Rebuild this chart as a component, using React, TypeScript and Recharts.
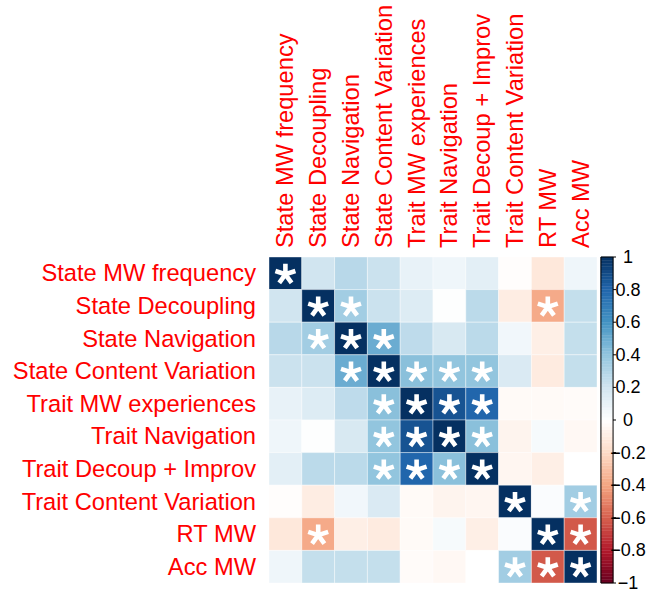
import React from "react";
import { ScatterChart, Scatter, XAxis, YAxis, ReferenceArea } from "recharts";

const labels = [
  "State MW frequency",
  "State Decoupling",
  "State Navigation",
  "State Content Variation",
  "Trait MW experiences",
  "Trait Navigation",
  "Trait Decoup + Improv",
  "Trait Content Variation",
  "RT MW",
  "Acc MW",
];

const corr = [
  [1, 0.2, 0.28, 0.22, 0.1, 0.07, 0.12, -0.01, -0.13, 0.07],
  [0.2, 1, 0.35, 0.22, 0.15, 0.01, 0.27, -0.1, -0.38, 0.24],
  [0.28, 0.35, 1, 0.5, 0.26, 0.17, 0.27, 0.06, -0.09, 0.24],
  [0.22, 0.22, 0.5, 1, 0.42, 0.4, 0.4, 0.16, -0.11, 0.24],
  [0.1, 0.15, 0.26, 0.42, 1, 0.87, 0.8, -0.03, -0.03, -0.02],
  [0.07, 0.01, 0.17, 0.4, 0.87, 1, 0.42, -0.06, 0.04, -0.04],
  [0.12, 0.27, 0.27, 0.4, 0.8, 0.42, 1, -0.05, -0.09, 0.0],
  [-0.01, -0.1, 0.06, 0.16, -0.03, -0.06, -0.05, 1, 0.02, 0.35],
  [-0.13, -0.38, -0.09, -0.11, -0.03, 0.04, -0.09, 0.02, 1, -0.62],
  [0.07, 0.24, 0.24, 0.24, -0.02, -0.04, 0.0, 0.35, -0.62, 1],
];

// [row, col] of significant cells
const significant = [
  [0, 0],
  [1, 1], [1, 2], [1, 8],
  [2, 1], [2, 2], [2, 3],
  [3, 2], [3, 3], [3, 4], [3, 5], [3, 6],
  [4, 3], [4, 4], [4, 5], [4, 6],
  [5, 3], [5, 4], [5, 5], [5, 6],
  [6, 3], [6, 4], [6, 5], [6, 6],
  [7, 7], [7, 9],
  [8, 1], [8, 8], [8, 9],
  [9, 7], [9, 8], [9, 9],
];

const colorbarTicks = [-1, -0.8, -0.6, -0.4, -0.2, 0, 0.2, 0.4, 0.6, 0.8, 1];

const palette = [
  "#67001F", "#B2182B", "#D6604D", "#F4A582", "#FDDBC7", "#FFFFFF",
  "#D1E5F0", "#92C5DE", "#4393C3", "#2166AC", "#053061",
];

function hexToRgb(h: string) {
  return [parseInt(h.slice(1, 3), 16), parseInt(h.slice(3, 5), 16), parseInt(h.slice(5, 7), 16)];
}

function colorFor(v: number) {
  const t = Math.max(0, Math.min(1, (v + 1) / 2)) * (palette.length - 1);
  const i = Math.min(palette.length - 2, Math.floor(t));
  const f = t - i;
  const a = hexToRgb(palette[i]);
  const b = hexToRgb(palette[i + 1]);
  const c = a.map((av, k) => Math.round(av + (b[k] - av) * f));
  return `rgb(${c[0]},${c[1]},${c[2]})`;
}

const cells = corr.flatMap((row, r) => row.map((v, c) => ({ r, c, v })));
const stars = significant.map(([r, c]) => ({ x: c + 0.5, y: r + 0.5 }));
const N = labels.length;
const centerTicks = labels.map((_, i) => i + 0.5);
// anchor points so the colour-bar axis has data (not drawn)
const cbAnchors = colorbarTicks.map((t) => ({ x: 5, v: t }));

const SLICES = 100;
const cbSlices = Array.from({ length: SLICES }, (_, i) => {
  const lo = -1 + (2 * i) / SLICES;
  const hi = -1 + (2 * (i + 1)) / SLICES;
  return { lo, hi, color: colorFor((lo + hi) / 2) };
});

const FONT = "'Liberation Sans', Arial, Helvetica, sans-serif";
const LABEL_SIZE = 23.7;

const RowTick = (props: any) => {
  const { x, y, payload } = props;
  const idx = Math.round(payload.value - 0.5);
  return (
    <text x={x - 5} y={y} textAnchor="end" dominantBaseline="central" fill="#FF0000" fontSize={LABEL_SIZE} fontFamily={FONT}>
      {labels[idx]}
    </text>
  );
};

const ColTick = (props: any) => {
  const { x, y, payload } = props;
  const idx = Math.round(payload.value - 0.5);
  const ty = y - 1;
  return (
    <text
      x={x}
      y={ty}
      transform={`rotate(-90, ${x}, ${ty})`}
      textAnchor="start"
      dominantBaseline="central"
      fill="#FF0000"
      fontSize={LABEL_SIZE}
      fontFamily={FONT}
    >
      {labels[idx]}
    </text>
  );
};

const CbTick = (props: any) => {
  const { x, y, payload } = props;
  const v = payload.value as number;
  const txt = v === 0 ? "0" : (v < 0 ? "\u2212" : "") + String(Math.abs(v));
  return (
    <g>
      <line x1={x + 8} x2={x + 11} y1={y} y2={y} stroke="#000" strokeWidth={1} />
      <text x={x + 23} y={y} textAnchor="middle" dominantBaseline="central" fill="#000" fontSize={18} fontFamily={FONT}>
        {txt}
      </text>
    </g>
  );
};

const Star = (props: any) => {
  const { cx, cy } = props;
  const L = 10.5;
  const yc = cy + 1;
  let d = "";
  for (let k = 0; k < 5; k++) {
    const a = (k * 72 * Math.PI) / 180;
    d += `M${cx},${yc}L${cx + L * Math.sin(a)},${yc - L * Math.cos(a)}`;
  }
  return <path d={d} stroke="#FFFFFF" strokeWidth={4.6} strokeLinecap="butt" fill="none" />;
};

const Nothing = () => <g />;

export default function App() {
  return (
    <div style={{ position: "absolute", left: 0, top: 0, width: 649, height: 592, background: "#fff" }}>
      <ScatterChart width={649} height={592} margin={{ top: 0, right: 0, bottom: 9, left: 0 }}>
        <XAxis
          xAxisId="x"
          type="number"
          dataKey="x"
          domain={[0, N]}
          orientation="top"
          height={257}
          ticks={centerTicks}
          interval={0}
          tick={ColTick}
          axisLine={false}
          tickLine={false}
        />
        <YAxis
          yAxisId="y"
          type="number"
          dataKey="y"
          domain={[0, N]}
          reversed
          width={269}
          ticks={centerTicks}
          interval={0}
          tick={RowTick}
          axisLine={false}
          tickLine={false}
        />
        <YAxis
          yAxisId="cb"
          type="number"
          dataKey="v"
          orientation="right"
          domain={[-1, 1]}
          ticks={colorbarTicks}
          interval={0}
          width={52}
          tick={CbTick}
          axisLine={false}
          tickLine={false}
        />
        {cells.map((c) => (
          <ReferenceArea
            key={`c${c.r}-${c.c}`}
            xAxisId="x"
            yAxisId="y"
            x1={c.c}
            x2={c.c + 1}
            y1={c.r}
            y2={c.r + 1}
            fill={colorFor(c.v)}
            fillOpacity={1}
            stroke="#FFFFFF"
            strokeWidth={0.4}
            ifOverflow="visible"
          />
        ))}
        {cbSlices.map((s, i) => (
          <ReferenceArea
            key={`s${i}`}
            xAxisId="x"
            yAxisId="cb"
            x1={10.12}
            x2={10.49}
            y1={s.lo}
            y2={s.hi}
            fill={s.color}
            fillOpacity={1}
            stroke={s.color}
            strokeWidth={0.4}
            ifOverflow="visible"
          />
        ))}
        <ReferenceArea
          xAxisId="x"
          yAxisId="cb"
          x1={10.12}
          x2={10.49}
          y1={-1}
          y2={1}
          fill="none"
          fillOpacity={0}
          stroke="#000"
          strokeWidth={1}
          ifOverflow="visible"
        />
        <Scatter xAxisId="x" yAxisId="cb" data={cbAnchors} shape={Nothing} isAnimationActive={false} />
        <Scatter xAxisId="x" yAxisId="y" data={stars} shape={Star} isAnimationActive={false} />
      </ScatterChart>
    </div>
  );
}
